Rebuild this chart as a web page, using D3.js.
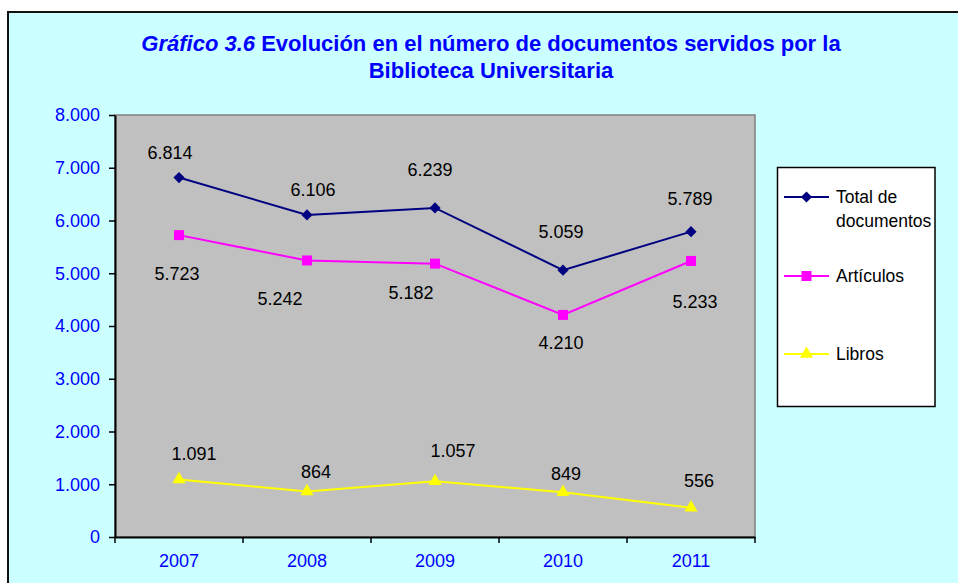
<!DOCTYPE html>
<html>
<head>
<meta charset="utf-8">
<script src="https://cdn.jsdelivr.net/npm/d3@7"></script>
<style>
  html, body { margin: 0; padding: 0; background: #ffffff; }
  svg { display: block; }
  text { font-family: "Liberation Sans", Arial, sans-serif; }
</style>
</head>
<body>
<svg id="chart" width="958" height="583"></svg>
<script>
// ---- Data ----
const years = ["2007", "2008", "2009", "2010", "2011"];
const totalDocs = [6814, 6106, 6239, 5059, 5789];
const articulos = [5723, 5242, 5182, 4210, 5233];
const libros = [1091, 864, 1057, 849, 556];
const seriesNames = ["Total de documentos", "Artículos", "Libros"];
const yTicks = [0, 1000, 2000, 3000, 4000, 5000, 6000, 7000, 8000];

// label placement offsets (as placed in the original)
const totalLabelDx = [-9, 6, -5, -2, -1];
const totalLabelDy = [-25, -25, -38, -38, -33];
const artLabelDx = [-2, -27, -24, -2, 4];
const artLabelDy = [39, 38, 29, 28, 41];
const libLabelDx = [15, 9, 18, 3, 8];
const libLabelDy = [-26, -20, -31, -19, -27];

(function () {
const loc = d3.formatLocale({decimal: ",", thousands: ".", grouping: [3], currency: ["", " €"]});
const fmt = loc.format(",");

const svg = d3.select("#chart");
const W = 958, H = 583;

// outer chart area
svg.append("rect").attr("x", 8).attr("y", 12).attr("width", W + 10).attr("height", H + 10)
  .attr("fill", "#ccffff").attr("stroke", "#111").attr("stroke-width", 2);

// title
const title = svg.append("text").attr("text-anchor", "middle").attr("fill", "#0000ff")
  .style("font-size", "22px").style("font-weight", "bold");
const l1 = title.append("tspan").attr("x", 491).attr("y", 51);
l1.append("tspan").style("font-style", "italic").text("Gráfico 3.6");
l1.append("tspan").text(" Evolución en el número de documentos servidos por la");
title.append("tspan").attr("x", 491).attr("y", 78).text("Biblioteca Universitaria");

// plot area
const pL = 115, pR = 755, pT = 115, pB = 537;
const x = d3.scaleBand().domain(years).range([pL, pR]);
const y = d3.scaleLinear().domain([0, 8000]).range([pB, pT]);
const cx = d => x(d) + x.bandwidth() / 2;

svg.append("rect").attr("x", pL).attr("y", pT).attr("width", pR - pL).attr("height", pB - pT)
  .attr("fill", "#c0c0c0").attr("stroke", "#808080").attr("stroke-width", 1.5);

// y axis
const yAxis = svg.append("g").attr("transform", `translate(${pL},0)`)
  .call(d3.axisLeft(y).tickValues(yTicks).tickFormat(fmt).tickSizeInner(6).tickSizeOuter(0).tickPadding(9));
yAxis.select(".domain").attr("stroke", "#000").attr("stroke-width", 2);
yAxis.selectAll(".tick line").attr("stroke", "#000").attr("stroke-width", 1.5);
yAxis.selectAll(".tick text").attr("fill", "#0000ff").style("font-size", "18px")
  .style("font-family", "'Liberation Sans', Arial, sans-serif");

// x axis
const xAxis = svg.append("g").attr("transform", `translate(0,${pB})`)
  .call(d3.axisBottom(x).tickSize(0).tickPadding(17));
xAxis.select(".domain").attr("stroke", "#000").attr("stroke-width", 2);
xAxis.selectAll(".tick text").attr("fill", "#0000ff").style("font-size", "18px")
  .style("font-family", "'Liberation Sans', Arial, sans-serif");
// category boundary ticks
const bounds = years.map(d => x(d)).concat([x(years[years.length - 1]) + x.bandwidth()]);
svg.append("g").selectAll("line").data(bounds).join("line")
  .attr("x1", d => d).attr("x2", d => d).attr("y1", pB).attr("y2", pB + 6)
  .attr("stroke", "#000").attr("stroke-width", 1.5);

// series
const series = [
  {name: seriesNames[0], values: totalDocs, color: "#000080", marker: d3.symbolSquare, msize: 62, rot: 45, dx: totalLabelDx, dy: totalLabelDy},
  {name: seriesNames[1], values: articulos, color: "#ff00ff", marker: d3.symbolSquare, msize: 100, rot: 0, dx: artLabelDx, dy: artLabelDy},
  {name: seriesNames[2], values: libros, color: "#ffff00", marker: d3.symbolTriangle, msize: 75, rot: 0, dx: libLabelDx, dy: libLabelDy}
];

const line = d3.line().x((v, i) => cx(years[i])).y(v => y(v));

series.forEach(s => {
  svg.append("path").datum(s.values).attr("d", line).attr("fill", "none")
    .attr("stroke", s.color).attr("stroke-width", 2);
  svg.append("g").selectAll("path").data(s.values).join("path")
    .attr("d", d3.symbol().type(s.marker).size(s.msize))
    .attr("transform", (v, i) => `translate(${cx(years[i])},${y(v)}) rotate(${s.rot})`)
    .attr("fill", s.color);
  svg.append("g").selectAll("text").data(s.values).join("text")
    .attr("x", (v, i) => cx(years[i]) + s.dx[i])
    .attr("y", (v, i) => y(v) + s.dy[i])
    .attr("dy", "0.35em").attr("text-anchor", "middle")
    .attr("fill", "#000").style("font-size", "18px")
    .text(v => fmt(v));
});

// legend
const lg = svg.append("g");
lg.append("rect").attr("x", 777.5).attr("y", 167.5).attr("width", 157.5).attr("height", 239)
  .attr("fill", "#fff").attr("stroke", "#000").attr("stroke-width", 1.5);
const legendY = [197, 276, 354];
series.forEach((s, i) => {
  const ly = legendY[i];
  lg.append("line").attr("x1", 784).attr("x2", 829).attr("y1", ly).attr("y2", ly)
    .attr("stroke", s.color).attr("stroke-width", 2);
  lg.append("path").attr("d", d3.symbol().type(s.marker).size(s.msize))
    .attr("transform", `translate(806.5,${ly}) rotate(${s.rot})`).attr("fill", s.color);
  const t = lg.append("text").attr("x", 836).attr("y", ly).attr("dy", "0.35em")
    .attr("fill", "#000").style("font-size", "17.5px");
  if (i === 0) {
    t.append("tspan").attr("x", 836).text("Total de");
    t.append("tspan").attr("x", 836).attr("dy", 24).text("documentos");
  } else {
    t.text(s.name);
  }
});
})();
</script>
</body>
</html>
